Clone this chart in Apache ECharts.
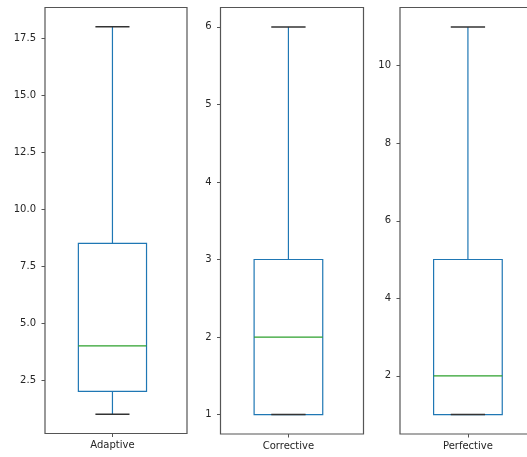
<!DOCTYPE html>
<html>
<head>
<meta charset="utf-8">
<script src="https://cdn.jsdelivr.net/npm/echarts@6/dist/echarts.min.js"></script>
<style>
  html, body { margin: 0; padding: 0; background: #fff; overflow: hidden; }
  /* wider than the window: the third panel runs past the right edge */
  #show_picture { width: 560px; height: 457px; }
</style>
</head>
<body>
<div id="show_picture"></div>
<script>
// one box per panel
const categories = ['Adaptive', 'Corrective', 'Perfective'];
const lowWhisker = [1, 1, 1];
const q1 = [2, 1, 1];
const medians = [4, 2, 2];
const q3 = [8.5, 3, 5];
const highWhisker = [18, 6, 11];

// y ticks and ranges of each panel
const yTicks = [
    [2.5, 5, 7.5, 10, 12.5, 15, 17.5],
    [1, 2, 3, 4, 5, 6],
    [2, 4, 6, 8, 10]
];
const yMin = [0.15, 0.75, 0.5];
const yMax = [18.85, 6.25, 11.5];
const yDecimals = [1, 0, 0];

let myChart = echarts.init(document.getElementById('show_picture'));

const gridPos = [
    { left: 45, top: 7.5, width: 142, height: 426 },
    { left: 220.5, top: 7.5, width: 143, height: 426.5 },
    { left: 400, top: 7.5, width: 143, height: 426.5 }
];

const font = { fontFamily: 'DejaVu Sans', fontSize: 10, color: '#262626' };
const spine = '#555';

function renderBox(params, api) {
    let x = api.value(0);
    let bw = 0.48, cw = 0.24;
    let pLo = api.coord([x, api.value(1)]);
    let pQ1 = api.coord([x, api.value(2)]);
    let pMed = api.coord([x, api.value(3)]);
    let pQ3 = api.coord([x, api.value(4)]);
    let pHi = api.coord([x, api.value(5)]);
    let xl = api.coord([x - bw / 2, 0])[0];
    let xr = api.coord([x + bw / 2, 0])[0];
    let cl = api.coord([x - cw / 2, 0])[0];
    let cr = api.coord([x + cw / 2, 0])[0];
    let xc = pMed[0];
    const blue = { stroke: '#1f77b4', lineWidth: 1.2, fill: null };
    return {
        type: 'group',
        children: [
            { type: 'line', shape: { x1: xc, y1: pQ1[1], x2: xc, y2: pLo[1] }, style: blue },
            { type: 'line', shape: { x1: xc, y1: pQ3[1], x2: xc, y2: pHi[1] }, style: blue },
            { type: 'rect', shape: { x: xl, y: pQ3[1], width: xr - xl, height: pQ1[1] - pQ3[1] }, style: blue },
            { type: 'line', shape: { x1: xl, y1: pMed[1], x2: xr, y2: pMed[1] }, style: { stroke: '#2ca02c', lineWidth: 1.2 } },
            { type: 'line', shape: { x1: cl, y1: pLo[1], x2: cr, y2: pLo[1] }, style: { stroke: '#333', lineWidth: 1.5 } },
            { type: 'line', shape: { x1: cl, y1: pHi[1], x2: cr, y2: pHi[1] }, style: { stroke: '#333', lineWidth: 1.5 } }
        ]
    };
}

let option = {
    animation: false,
    grid: gridPos.map(g => Object.assign({ show: true, borderColor: spine, borderWidth: 1.2, backgroundColor: 'transparent' }, g)),
    xAxis: categories.map((c, i) => ({
        type: 'value',
        gridIndex: i,
        min: 0.525,
        max: 1.525,
        splitLine: { show: false },
        axisLine: { show: false },
        axisTick: { show: true, customValues: [1], length: 3.5, lineStyle: { color: spine } },
        axisLabel: Object.assign({ customValues: [1], margin: 7, formatter: () => c }, font)
    })),
    yAxis: categories.map((c, i) => ({
        type: 'value',
        gridIndex: i,
        min: yMin[i],
        max: yMax[i],
        splitLine: { show: false },
        axisLine: { show: false },
        axisTick: { show: true, customValues: yTicks[i], length: 3.5, lineStyle: { color: spine } },
        axisLabel: Object.assign({ customValues: yTicks[i], margin: 9, formatter: v => Number(v).toFixed(yDecimals[i]) }, font)
    })),
    series: categories.map((c, i) => ({
        type: 'custom',
        xAxisIndex: i,
        yAxisIndex: i,
        renderItem: renderBox,
        encode: { x: 0, y: [1, 2, 3, 4, 5] },
        data: [[1, lowWhisker[i], q1[i], medians[i], q3[i], highWhisker[i]]]
    }))
};

option && myChart.setOption(option);
</script>
</body>
</html>
